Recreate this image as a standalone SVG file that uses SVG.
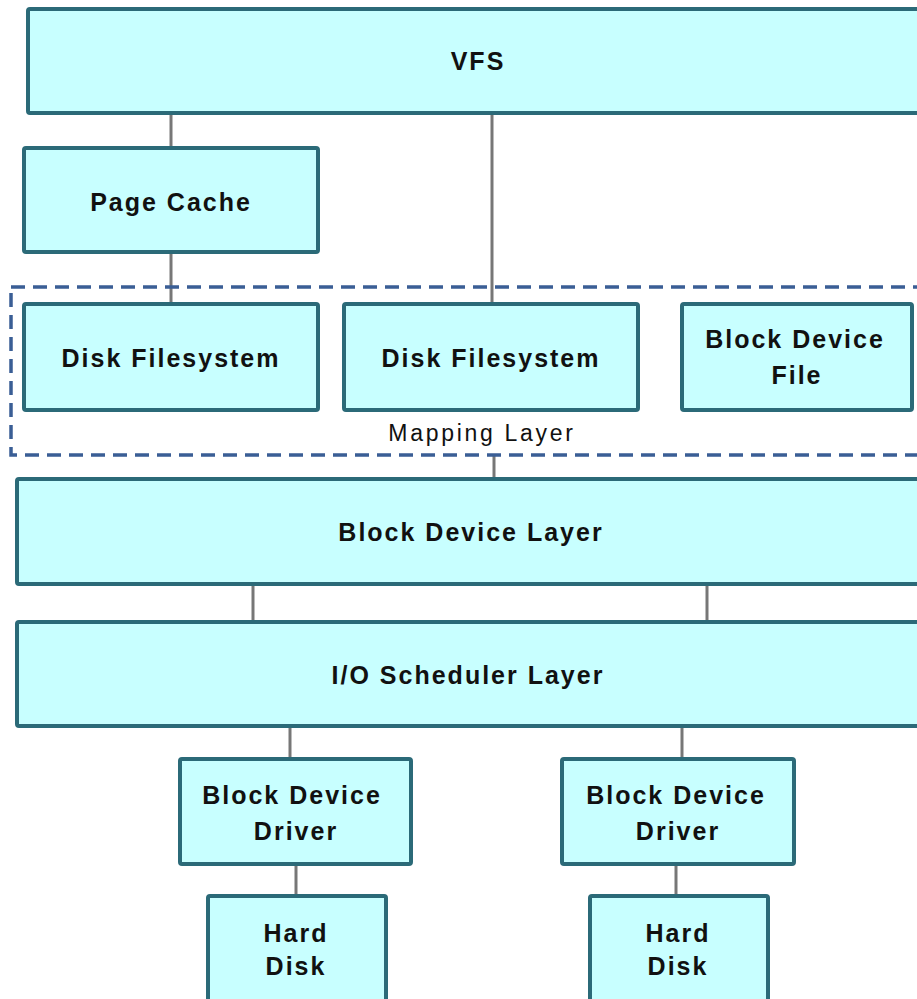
<svg xmlns="http://www.w3.org/2000/svg" width="917" height="999" viewBox="0 0 917 999">
<style>
.box{fill:#c8ffff;stroke:#2b6a78;stroke-width:4}
.t{font-family:"Liberation Sans",Arial,sans-serif;font-weight:bold;font-size:25px;letter-spacing:2px;fill:#111;text-anchor:middle}
.m{font-family:"Liberation Sans",Arial,sans-serif;font-size:23px;letter-spacing:2.7px;fill:#111;text-anchor:middle}
.c{stroke:#777;stroke-width:3;fill:none}
.dash{fill:none;stroke:#3a5e95;stroke-width:3.5;stroke-dasharray:14,8}
</style>
<rect width="917" height="999" fill="#fff"/>
<g id="connectors">
<line class="c" x1="171" y1="113" x2="171" y2="148"/>
<line class="c" x1="171" y1="252" x2="171" y2="304"/>
<line class="c" x1="492" y1="113" x2="492" y2="304"/>
<line class="c" x1="494" y1="456" x2="494" y2="479"/>
<line class="c" x1="253" y1="584" x2="253" y2="622"/>
<line class="c" x1="707" y1="584" x2="707" y2="622"/>
<line class="c" x1="290" y1="726" x2="290" y2="759"/>
<line class="c" x1="682" y1="726" x2="682" y2="759"/>
<line class="c" x1="296" y1="864" x2="296" y2="896"/>
<line class="c" x1="676" y1="864" x2="676" y2="896"/>
</g>
<g id="mapping-layer">
<rect class="dash" x="11" y="287" width="920" height="168"/>
<text class="m" x="482" y="441">Mapping Layer</text>
</g>
<g id="vfs">
<rect class="box" x="28" y="9" width="900" height="104" rx="2"/>
<text class="t" x="478" y="70">VFS</text>
</g>
<g id="page-cache">
<rect class="box" x="24" y="148" width="294" height="104" rx="2"/>
<text class="t" x="171" y="211">Page Cache</text>
</g>
<g id="disk-fs-1">
<rect class="box" x="24" y="304" width="294" height="106" rx="2"/>
<text class="t" x="171" y="367">Disk Filesystem</text>
</g>
<g id="disk-fs-2">
<rect class="box" x="344" y="304" width="294" height="106" rx="2"/>
<text class="t" x="491" y="367">Disk Filesystem</text>
</g>
<g id="block-device-file">
<rect class="box" x="682" y="304" width="230" height="106" rx="2"/>
<text class="t" x="795" y="348">Block Device</text>
<text class="t" x="797" y="384">File</text>
</g>
<g id="block-device-layer">
<rect class="box" x="17" y="479" width="910" height="105" rx="2"/>
<text class="t" x="471" y="541">Block Device Layer</text>
</g>
<g id="io-scheduler-layer">
<rect class="box" x="17" y="622" width="910" height="104" rx="2"/>
<text class="t" x="468" y="684">I/O Scheduler Layer</text>
</g>
<g id="bdd-1">
<rect class="box" x="180" y="759" width="231" height="105" rx="2"/>
<text class="t" x="292" y="804">Block Device</text>
<text class="t" x="296" y="840">Driver</text>
</g>
<g id="bdd-2">
<rect class="box" x="562" y="759" width="232" height="105" rx="2"/>
<text class="t" x="676" y="804">Block Device</text>
<text class="t" x="678" y="840">Driver</text>
</g>
<g id="hard-disk-1">
<rect class="box" x="208" y="896" width="178" height="120" rx="2"/>
<text class="t" x="296" y="942">Hard</text>
<text class="t" x="296" y="975">Disk</text>
</g>
<g id="hard-disk-2">
<rect class="box" x="590" y="896" width="178" height="120" rx="2"/>
<text class="t" x="678" y="942">Hard</text>
<text class="t" x="678" y="975">Disk</text>
</g>
</svg>
